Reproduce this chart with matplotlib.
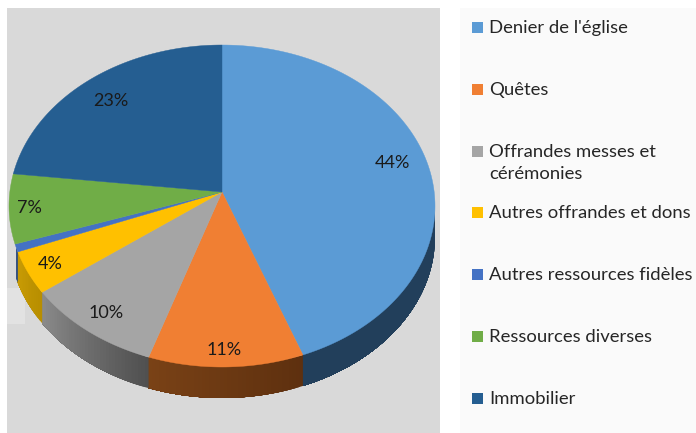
import numpy as np
import matplotlib
matplotlib.use("Agg")
import matplotlib.pyplot as plt
from matplotlib.patches import Rectangle, Polygon

labels = ["Denier de l'église", "Quêtes", "Offrandes messes et\ncérémonies",
          "Autres offrandes et dons", "Autres ressources fidèles",
          "Ressources diverses", "Immobilier"]
# shares (the printed labels are rounded)
shares = [43.8, 11.8, 10.4, 4.4, 0.8, 7.0, 21.8]
pct_labels = ["44%", "11%", "10%", "4%", "", "7%", "23%"]
colors = ["#5b9bd5", "#f07f33", "#a5a5a5", "#ffc000", "#4472c4", "#70ad47", "#255e91"]
side_left = ["#223f5b", "#7a4216", "#8c8c8c", "#c99c05", "#2a4a80", "#4a7030", "#173a5a"]
side_right = ["#223f5b", "#5e300f", "#505050", "#b88e00", "#2a4a80", "#4a7030", "#173a5a"]

cx, cy, rx, ry = 222, 206, 213, 161
apex = (222, 192)
depth = 31


def rim(a):
    a = np.radians(a)
    return cx + rx * np.sin(a), cy - ry * np.cos(a)


fig = plt.figure(figsize=(6.96, 4.33), dpi=100)
ax = fig.add_axes([0, 0, 1, 1])
ax.set_xlim(0, 696)
ax.set_ylim(433, 0)
ax.axis("off")

ax.add_patch(Rectangle((7, 8), 433, 425, color="#d9d9d9", lw=0))
ax.add_patch(Rectangle((7, 288), 18, 36, color="#e2e2e2", lw=0))
ax.add_patch(Rectangle((460, 8), 236, 425, color="#fafafa", lw=0))

edges = np.cumsum([0] + shares) / sum(shares) * 360

# side wall first, split in strips for the shading
for i in range(len(shares)):
    a0, a1 = edges[i], edges[i + 1]
    lo, hi = max(a0, 90), min(a1, 255)
    if hi <= lo:
        continue
    steps = np.linspace(lo, hi, int(hi - lo) + 2)
    c0 = np.array(matplotlib.colors.to_rgb(side_left[i]))
    c1 = np.array(matplotlib.colors.to_rgb(side_right[i]))
    for s0 in steps[:-1]:
        # every strip runs on to the end of the slice, the next one paints over it
        aa = np.linspace(s0, hi, 40)
        x, y = rim(aa)
        t = (s0 - lo) / (hi - lo)
        # clockwise around the pie means going right to left, so the dark end comes first
        col = c1 * (1 - t) + c0 * t
        pts = list(zip(x, y)) + list(zip(x[::-1], y[::-1] + depth))
        ax.add_patch(Polygon(pts, facecolor=col, edgecolor="none"))

# top face
for i in range(len(shares)):
    aa = np.linspace(edges[i], edges[i + 1], 120)
    x, y = rim(aa)
    pts = [apex] + list(zip(x, y))
    ax.add_patch(Polygon(pts, facecolor=colors[i], edgecolor=colors[i], lw=0.3))

pct_pos = [(392, 163), (224, 350), (106, 313), (50, 264), None, (29, 208), (111, 101)]
for txt, pos in zip(pct_labels, pct_pos):
    if pos:
        ax.text(pos[0], pos[1], txt, ha="center", va="center",
                fontsize=13, family="Lato", color="#1a1a1a")

# legend
leg_y = [27, 89, 151, 212, 274, 336, 398]
for lab, col, y in zip(labels, colors, leg_y):
    ax.add_patch(Rectangle((472, y - 5.5), 11, 11, color=col, lw=0))
    ax.text(489, y - 7, lab, ha="left", va="top", fontsize=13.3, family="Lato",
            color="#262626", linespacing=1.44)

fig.savefig("out.png", dpi=100)
